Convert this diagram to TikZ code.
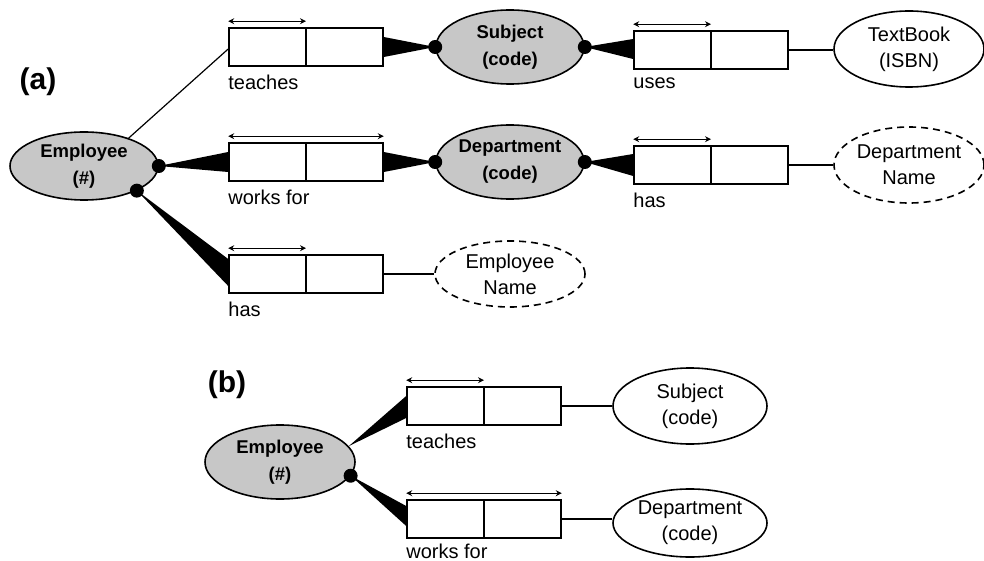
\documentclass[tikz,border=0pt]{standalone}
\usepackage{fontspec}
\setmainfont{Liberation Sans}
\usetikzlibrary{positioning,shapes.geometric,arrows.meta}

\begin{document}
\begin{tikzpicture}[x=1pt,y=-1pt,
    font=\fontsize{20}{26}\selectfont,
    entity/.style={ellipse,draw,line width=1.6pt,fill=black!22,
      minimum width=148pt,minimum height=74pt,inner sep=0pt,align=center,
      font=\fontsize{18.5}{27}\selectfont\bfseries},
    value/.style={ellipse,draw,line width=1.6pt,minimum width=150pt,
      minimum height=76pt,inner sep=0pt,align=center},
    valuedash/.style={value,dash pattern=on 7pt off 5pt},
    factbox/.style={draw,line width=1.6pt,minimum width=154pt,
      minimum height=38pt,inner sep=0pt,
      path picture={\draw[line width=1.6pt] (path picture bounding box.north)
        -- (path picture bounding box.south);}},
    blob/.style={circle,fill,inner sep=0pt,minimum size=14pt},
    uniqarrow/.style={<->,>={Stealth[length=6pt,width=6pt]},line width=0.9pt},
    rolelbl/.style={inner sep=0pt},
    partlbl/.style={font=\fontsize{30}{30}\selectfont\bfseries}]

  \useasboundingbox (0,0) rectangle (984,561);

  % (a)
  \node[partlbl] (parta) at (38,82) {(a)};

  \node[entity, minimum height=68pt] (emp) at (84,166) {Employee\\(\#)};
  \node[entity] (subj) at (510,47) {Subject\\(code)};
  \node[entity] (dept) at (510,162) {Department\\(code)};
  \node[value] (book) at (909,49) {TextBook\\(ISBN)};
  \node[valuedash] (dname) at (909,165) {Department\\Name};
  \node[valuedash, minimum height=66pt] (ename) at (510,274) {Employee\\Name};

  \node[factbox] (teach) at (306,47) {};
  \node[factbox] (works) at (306,162) {};
  \node[factbox] (ehas) at (306,274) {};
  \node[factbox] (uses) at (711,50) {};
  \node[factbox] (dhas) at (711,165) {};

  \node[rolelbl, below right=8pt and 0pt of teach.south west] (teachlbl) {teaches};
  \node[rolelbl, below right=8pt and 0pt of works.south west] (workslbl) {works for};
  \node[rolelbl, below right=8pt and 0pt of ehas.south west] (ehaslbl) {has};
  \node[rolelbl, below right=8pt and 0pt of uses.south west] (useslbl) {uses};
  \node[rolelbl, below right=8pt and 0pt of dhas.south west] (dhaslbl) {has};

  \draw[uniqarrow] ([yshift=6pt]teach.north west) -- ([yshift=6pt]teach.north);
  \draw[uniqarrow] ([yshift=6pt]works.north west) -- ([yshift=6pt]works.north east);
  \draw[uniqarrow] ([yshift=6pt]ehas.north west) -- ([yshift=6pt]ehas.north);
  \draw[uniqarrow] ([yshift=6pt]uses.north west) -- ([yshift=6pt]uses.north);
  \draw[uniqarrow] ([yshift=6pt]dhas.north west) -- ([yshift=6pt]dhas.north);

  \node[blob] (e1) at (emp.east) {};
  \node[blob] (e2) at (emp.-25) {};
  \node[blob] (s1) at (subj.west) {};
  \node[blob] (s2) at (subj.east) {};
  \node[blob] (d1) at (dept.west) {};
  \node[blob] (d2) at (dept.east) {};

  \draw[line width=1.2pt] (emp.32) -- ([yshift=-2pt]teach.west);
  \fill (e1.center) -- ([yshift=10pt]works.west) -- ([yshift=-10pt]works.west) -- cycle;
  \fill (e2.center) -- ([yshift=15pt]ehas.west) -- ([yshift=-12pt]ehas.west) -- cycle;
  \fill (s1.center) -- ([yshift=10pt]teach.east) -- ([yshift=-10pt]teach.east) -- cycle;
  \fill (d1.center) -- ([yshift=10pt]works.east) -- ([yshift=-10pt]works.east) -- cycle;
  \fill (s2.center) -- ([yshift=11pt]uses.west) -- ([yshift=-9pt]uses.west) -- cycle;
  \fill (d2.center) -- ([yshift=11pt]dhas.west) -- ([yshift=-11pt]dhas.west) -- cycle;
  \draw[line width=1.2pt] (uses.east) -- (uses.east -| book.west);
  \draw[line width=1.2pt] (dhas.east) -- (dname.west);
  \draw[line width=1.2pt] (ehas.east) -- (ename.west);

  % (b)
  \node[partlbl] (partb) at (227,385) {(b)};

  \node[entity, minimum width=150pt] (empb) at (280,462) {Employee\\(\#)};
  \node[factbox] (teachb) at (484,406) {};
  \node[factbox] (worksb) at (484,519) {};
  \node[value, minimum width=154pt] (subjb) at (690,406) {Subject\\(code)};
  \node[value, minimum width=154pt, minimum height=68pt] (deptb) at (690,523) {Department\\(code)};

  \node[rolelbl, below right=8pt and 0pt of teachb.south west] (teachblbl) {teaches};
  \node[rolelbl, below right=5pt and 0pt of worksb.south west] (worksblbl) {works for};

  \draw[uniqarrow] ([yshift=6pt]teachb.north west) -- ([yshift=6pt]teachb.north);
  \draw[uniqarrow] ([yshift=6pt]worksb.north west) -- ([yshift=6pt]worksb.north east);

  \node[blob] (eb) at (empb.-11) {};
  \fill (empb.13) -- ([yshift=10pt]teachb.west) -- ([yshift=-12pt]teachb.west) -- cycle;
  \fill (eb.center) -- ([yshift=13pt]worksb.west) -- ([yshift=-7pt]worksb.west) -- cycle;
  \draw[line width=1.2pt] (teachb.east) -- (subjb.west);
  \draw[line width=1.2pt] (worksb.east) -- (worksb.east -| deptb.west);
\end{tikzpicture}
\end{document}
